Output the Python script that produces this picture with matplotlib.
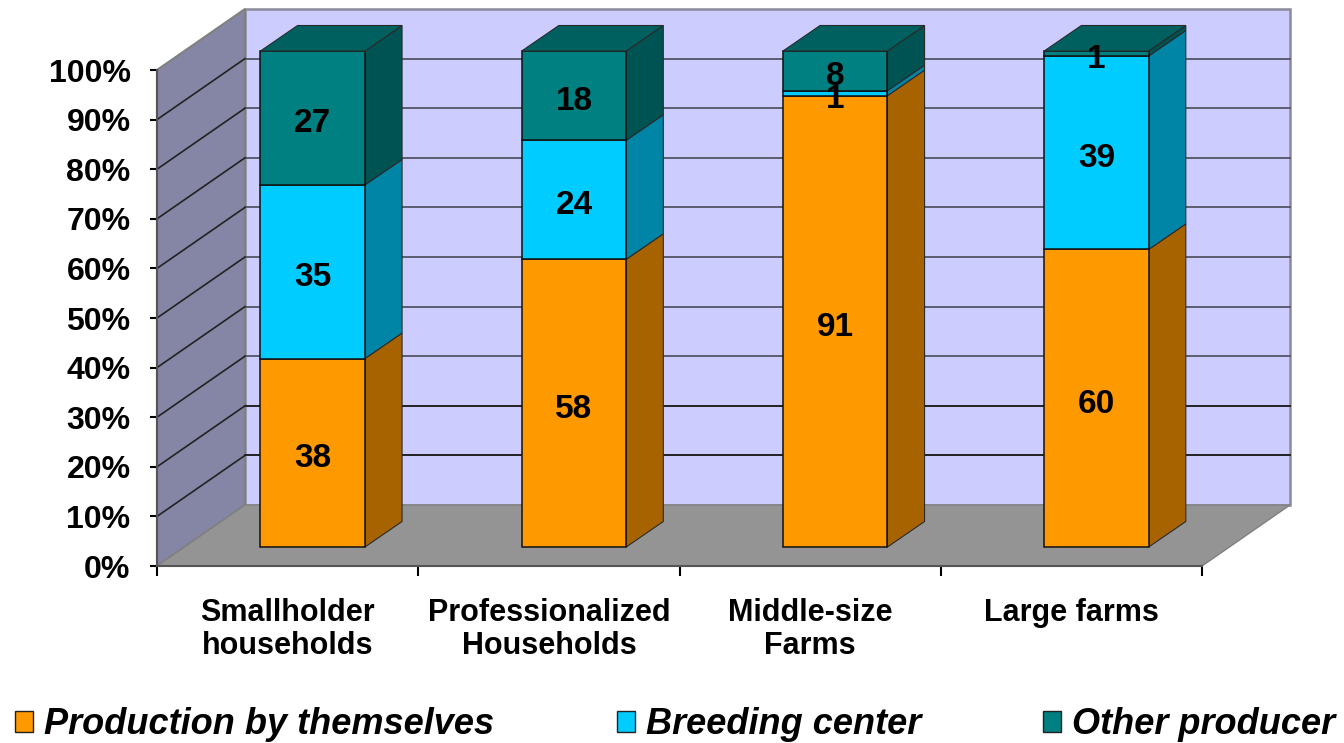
import numpy as np
import matplotlib
matplotlib.use("Agg")
import matplotlib.pyplot as plt
from matplotlib.patches import Polygon, Patch

categories = ["Smallholder\nhouseholds", "Professionalized\nHouseholds", "Middle-size\nFarms", "Large farms"]
series_names = ["Production by themselves", "Breeding center", "Other producer"]
production = [38, 58, 91, 60]
breeding = [35, 24, 1, 39]
other = [27, 18, 8, 1]
y_ticks = [0, 10, 20, 30, 40, 50, 60, 70, 80, 90, 100]

FRONT = ["#FF9900", "#00CCFF", "#008080"]
SIDE = ["#A66300", "#0085A6", "#005353"]
TOP = "#006060"

# depth of the fake 3D box, in data units
DX = 88 / 261.25
DY = 61 / 4.96
BAR_DX = 0.142
BAR_DY = 5.14
BAR_OFF_DX = 0.096
BAR_OFF_DY = 3.83
BAR_W = 0.4


def poly(ax, pts, color, edge="none", lw=0, z=1):
    ax.add_patch(Polygon(pts, closed=True, facecolor=color, edgecolor=edge,
                         linewidth=lw, clip_on=False, zorder=z))


def draw_walls(ax):
    poly(ax, [(DX, DY), (4 + DX, DY), (4 + DX, 100 + DY), (DX, 100 + DY)], "#CCCCFF", "#8a8a9a", 1.8)
    poly(ax, [(0, 0), (DX, DY), (DX, 100 + DY), (0, 100)], "#8585A6", "#808080", 1.5)
    poly(ax, [(0, 0), (4, 0), (4 + DX, DY), (DX, DY)], "#949494", "#808080", 1.0)
    for y in y_ticks[1:-1]:
        color = "#222222" if y < 30 else "#5c5c70"
        ax.plot([DX, 4 + DX], [y + DY, y + DY], color=color, lw=1.4,
                clip_on=False, zorder=2)
        ax.plot([0, DX], [y, y + DY], color="#222222", lw=1.2, clip_on=False, zorder=2)


def draw_bar(ax, i, values):
    x0 = i + 0.5 - BAR_W / 2 + BAR_OFF_DX
    x1 = x0 + BAR_W
    bottom = 0
    for k, v in enumerate(values):
        lo = bottom + BAR_OFF_DY
        hi = lo + v
        poly(ax, [(x1, lo), (x1 + BAR_DX, lo + BAR_DY), (x1 + BAR_DX, hi + BAR_DY), (x1, hi)],
             SIDE[k], "#2a2a2a", 0.8, z=3)
        poly(ax, [(x0, lo), (x1, lo), (x1, hi), (x0, hi)], FRONT[k], "#111111", 1.1, z=4)
        ax.text((x0 + x1) / 2, (lo + hi) / 2 - 1.2, str(v), ha="center", va="center",
                fontsize=24, fontweight="bold", zorder=6)
        bottom += v
    top = bottom + BAR_OFF_DY
    poly(ax, [(x0, top), (x1, top), (x1 + BAR_DX, top + BAR_DY), (x0 + BAR_DX, top + BAR_DY)],
         TOP, "#2a2a2a", 0.8, z=4)


def main():
    plt.rcParams["font.family"] = ["Liberation Sans", "DejaVu Sans"]
    fig = plt.figure(figsize=(13.44, 7.43), dpi=100)
    ax = fig.add_axes([157 / 1344, (743 - 566) / 743, 1045 / 1344, 496 / 743])
    ax.set_xlim(0, 4)
    ax.set_ylim(0, 100)
    ax.patch.set_visible(False)
    for name in ["top", "right"]:
        ax.spines[name].set_visible(False)
    ax.spines["left"].set_color("#555555")
    ax.spines["bottom"].set_color("#555555")
    ax.spines["left"].set_linewidth(1.5)
    ax.spines["bottom"].set_linewidth(1.5)

    draw_walls(ax)
    for i, values in enumerate(zip(production, breeding, other)):
        draw_bar(ax, i, values)

    ax.set_yticks(y_ticks)
    ax.set_yticklabels([f"{y}%" for y in y_ticks], fontsize=23, fontweight="bold", va="center_baseline")
    ax.tick_params(axis="y", length=5, width=1.5, pad=14)
    ax.set_xticks(range(5))
    ax.set_xticklabels([])
    ax.tick_params(axis="x", which="major", length=7, width=1.5)
    ax.set_xticks(np.arange(4) + 0.5, minor=True)
    ax.set_xticklabels(categories, minor=True, fontsize=22, fontweight="bold", linespacing=1.13)
    ax.tick_params(axis="x", which="minor", length=0, pad=23)

    handles = [Patch(facecolor=c, edgecolor="#222222", linewidth=1) for c in FRONT]
    fig.legend(handles, series_names, ncol=3, loc="lower left", bbox_to_anchor=(0.006, -0.009),
               frameon=False, prop={"size": 26, "weight": "bold", "style": "italic"},
               handlelength=0.5, handleheight=0.5, handletextpad=0.3, columnspacing=3.39,
               borderpad=0.2, borderaxespad=0)

    fig.savefig("out.png", dpi=100)


if __name__ == "__main__":
    main()
